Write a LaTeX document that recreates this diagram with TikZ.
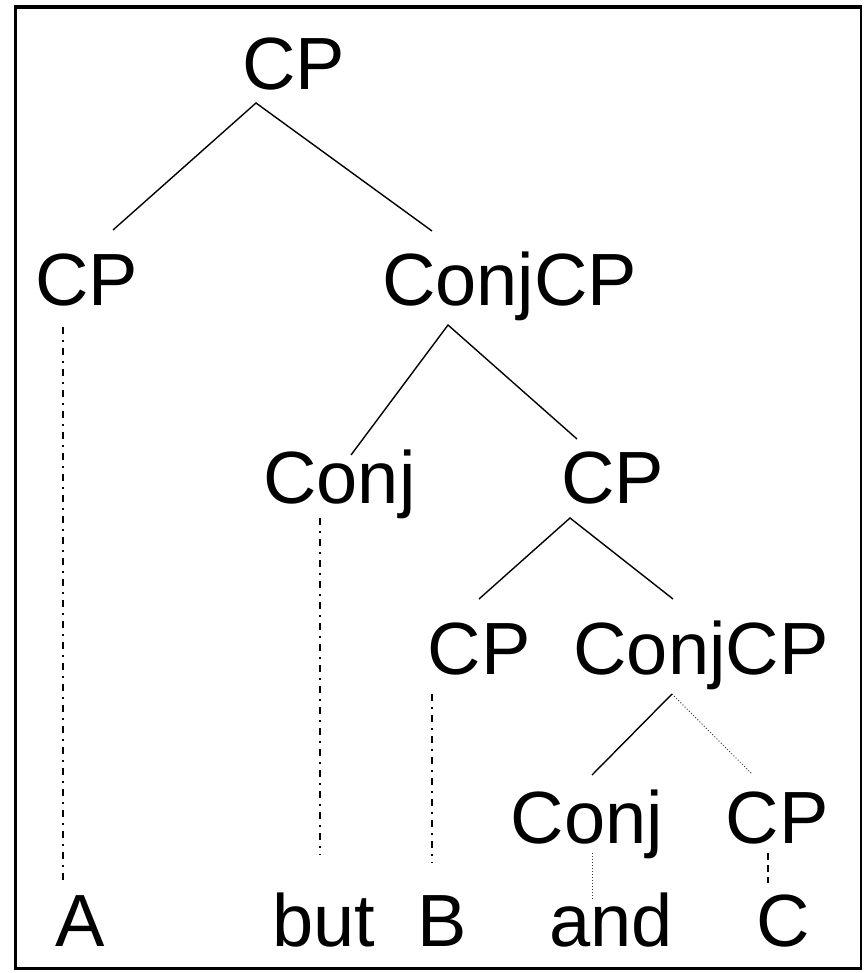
\documentclass[tikz,border=0pt]{standalone}
\usepackage{fontspec}
\setmainfont{Liberation Sans}
\begin{document}
\begin{tikzpicture}[x=1pt,y=-1pt,
  lbl/.style={font=\fontsize{74}{78}\selectfont, anchor=base, inner sep=0pt},
  edge/.style={line width=1.4pt},
  dashdot/.style={line width=1.3pt, dash pattern=on 7pt off 6pt on 2pt off 6pt},
  dotline/.style={line width=1pt, dash pattern=on 1pt off 2pt, black!80},
  shortdash/.style={line width=1.3pt, dash pattern=on 7pt off 5pt}]
\useasboundingbox (0,0) rectangle (863,973);
\fill[white] (0,0) rectangle (863,973);
% frame
\draw[line width=4pt] (14,7) -- (861.5,7);
\draw[line width=2.5pt] (15.3,5) -- (15.3,969.5);
\draw[line width=2pt] (860.5,7) -- (860.5,969.5);
\draw[line width=3pt] (14,968.5) -- (861.5,968.5);
% labels
\node[lbl] (cp0) at (293.5,90) {CP};
\node[lbl] (cpA) at (86.5,305) {CP};
\node[lbl] (ccp1) at (509.5,305) {ConjCP};
\node[lbl] (conj1) at (339.5,503) {Conj};
\node[lbl] (cp1) at (612.5,503) {CP};
\node[lbl] (cpB) at (479,674) {CP};
\node[lbl] (ccp2) at (701,674) {ConjCP};
\node[lbl] (conj2) at (587,843) {Conj};
\node[lbl] (cpC) at (777,843) {CP};
\node[lbl] (wA) at (80,946) {A};
\node[lbl] (wbut) at (324,946) {but};
\node[lbl] (wB) at (442.5,946) {B};
\node[lbl] (wand) at (611,946) {and};
\node[lbl] (wC) at (783,946) {C};
% connector end points
\coordinate (a0) at (256,103);
\coordinate (a0l) at (113,230);
\coordinate (a0r) at (432,231);
\coordinate (a1) at (448,325);
\coordinate (a1l) at (351,455);
\coordinate (a1r) at (577,439);
\coordinate (a2) at (570,518);
\coordinate (a2l) at (479,599);
\coordinate (a2r) at (673,599);
\coordinate (a3) at (672,694);
\coordinate (a3l) at (592,775);
\coordinate (a3r) at (752,774);
\coordinate (lA1) at (63,327);
\coordinate (lA2) at (63,883);
\coordinate (lbut1) at (320,518);
\coordinate (lbut2) at (320,855);
\coordinate (lB1) at (432,694);
\coordinate (lB2) at (432,863);
\coordinate (land1) at (592,853);
\coordinate (land2) at (592,900);
\coordinate (lC1) at (768,853);
\coordinate (lC2) at (768,883);
% branches
\draw[edge] (a0l) -- (a0) -- (a0r);
\draw[edge] (a1l) -- (a1) -- (a1r);
\draw[edge] (a2l) -- (a2) -- (a2r);
\draw[edge] (a3l) -- (a3);
\draw[dotline] (a3) -- (a3r);
% projections to words
\draw[dashdot] (lA1) -- (lA2);
\draw[dashdot] (lbut1) -- (lbut2);
\draw[dashdot] (lB1) -- (lB2);
\draw[dotline] (land1) -- (land2);
\draw[shortdash] (lC1) -- (lC2);
\end{tikzpicture}
\end{document}
